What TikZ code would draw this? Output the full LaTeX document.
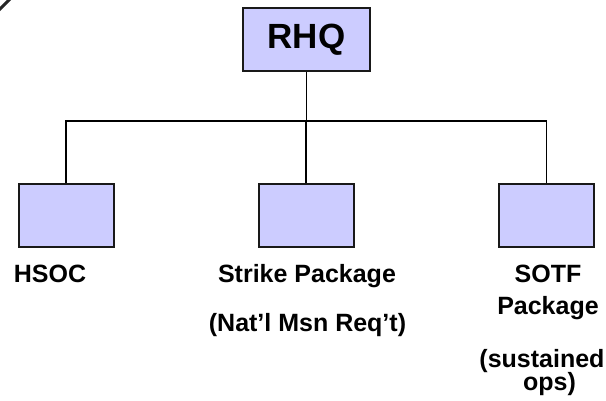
\documentclass[tikz,border=0pt]{standalone}
\usepackage{fontspec}
\setmainfont{Liberation Sans}
\definecolor{unitfill}{HTML}{CCCCFF}
\newcommand{\toplbl}{\fontsize{35}{42}\selectfont\bfseries}
\newcommand{\unitlbl}{\fontsize{25}{30}\selectfont\bfseries}

\begin{document}
\begin{tikzpicture}[x=1pt,y=-1pt,
		unit/.style={draw=black!90,line width=2pt,fill=unitfill,minimum width=95pt,minimum height=63pt,inner sep=0pt},
		lbl/.style={font=\unitlbl,inner sep=0pt,anchor=base},
		link/.style={line width=1.5pt,black}]
			\useasboundingbox (0,0) rectangle (606,401);
			\draw[line width=3pt,black!85] (-1,10) -- (10,-1);
			\node[unit,minimum width=127pt,font=\toplbl] (rhq) at (306.5,40) {RHQ};
			\node[unit] (hsoc) at (66,216) {};
			\node[unit] (strike) at (306,216) {};
			\node[unit] (sotf) at (546.5,216) {};
			\coordinate (bar) at (0,121);
			\draw[link] (rhq.south) -- (rhq.south |- bar);
			\draw[link] (hsoc.north) -- (hsoc.north |- bar) -- (sotf.north |- bar) -- (sotf.north);
			\draw[link] (strike.north) -- (strike.north |- bar);
			\node[lbl] (hsoclbl) at (50,283) {HSOC};
			\node[lbl] (strikelbl) at (307,283) {Strike Package};
			\node[lbl] (msnlbl) at (307.5,331) {(Nat’l Msn Req’t)};
			\node[lbl] (sotflbl) at (548,283) {SOTF};
			\node[lbl] (pkglbl) at (548,315) {Package};
			\node[lbl] (sustlbl) at (542,367) {(sustained};
			\node[lbl] (opslbl) at (549.5,390) {ops)};
\end{tikzpicture}
\end{document}
